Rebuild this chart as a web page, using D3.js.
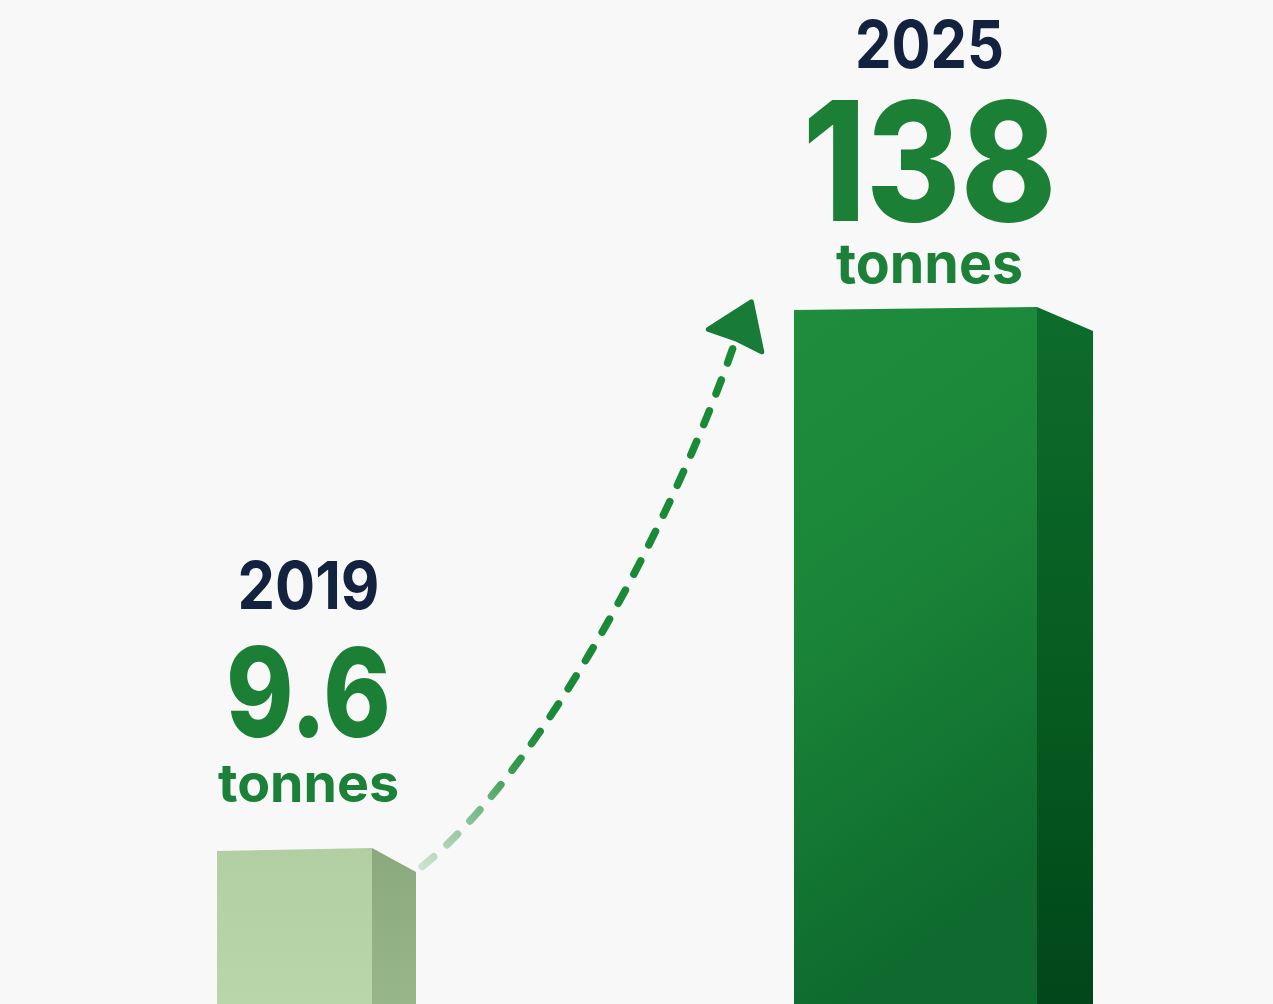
<!DOCTYPE html>
<html>
<head>
<meta charset="utf-8">
<script src="https://cdn.jsdelivr.net/npm/d3@7"></script>
<style>
  html, body { margin: 0; padding: 0; background: #f8f8f8; overflow: hidden; }
  svg { display: block; }
  text { font-family: Inter, "Noto Sans", sans-serif; }
</style>
</head>
<body>
<svg class="chart"></svg>
<script>
// data
var years = ['2019', '2025'];
var tonnes = [9.6, 138];
var valueLabels = ['9.6', '138'];
var unitLabel = 'tonnes';

var width = 1273, height = 1004;

var svg = d3.select('svg.chart')
  .attr('width', width)
  .attr('height', height);

// layout (perspective makes the far bar wider)
var baseY = 1004;
var x = d3.scaleOrdinal().domain(years).range([217, 794]);
var frontW = d3.scaleOrdinal().domain(years).range([155, 243]);
var depth = d3.scaleOrdinal().domain(years).range([44, 56]);
// bars are not linear in the source, a power scale gets close
var y = d3.scalePow().exponent(0.567).domain([0, 138]).range([baseY, 310]);

var defs = svg.append('defs');

var grad = function (id, x1, y1, x2, y2, stops) {
  var g = defs.append('linearGradient').attr('id', id)
    .attr('x1', x1).attr('y1', y1).attr('x2', x2).attr('y2', y2);
  stops.forEach(function (s) {
    g.append('stop').attr('offset', s[0]).attr('stop-color', s[1]);
  });
};

grad('front0', 0, 0, 0, 1, [[0, '#b2cfa3'], [1, '#b9d5aa']]);
grad('side0', 0, 0, 0, 1, [[0, '#8aa97d'], [1, '#97b68a']]);
grad('front1', 0, 0, 0.25, 1, [[0, '#1f8d3d'], [0.45, '#1a8538'], [1, '#0e6a2e']]);
grad('side1', 0, 0, 0, 1, [[0, '#0d6c2c'], [0.6, '#06591f'], [1, '#00461a']]);

var bars = svg.append('g').selectAll('g')
  .data(years)
  .join('g');

bars.append('path')
  .attr('d', function (d, i) {
    var x0 = x(d) + frontW(d), top = y(tonnes[i]), dp = depth(d);
    return 'M' + x0 + ',' + (top - 3) + 'L' + (x0 + dp) + ',' + (top + 21) +
      'L' + (x0 + dp) + ',' + baseY + 'L' + x0 + ',' + baseY + 'Z';
  })
  .attr('fill', function (d, i) { return 'url(#side' + i + ')'; });

bars.append('path')
  .attr('d', function (d, i) {
    var x0 = x(d), x1 = x0 + frontW(d), top = y(tonnes[i]);
    return 'M' + x0 + ',' + top + 'L' + x1 + ',' + (top - 3) +
      'L' + x1 + ',' + baseY + 'L' + x0 + ',' + baseY + 'Z';
  })
  .attr('fill', function (d, i) { return 'url(#front' + i + ')'; });

// dashed growth arrow from small bar to big bar
var p0 = [x(years[0]) + frontW(years[0]) + depth(years[0]) + 3, y(tonnes[0]) + 18];
var p3 = [737, 336];
var c1 = [540, 775], c2 = [677, 515];

var curve = d3.path();
curve.moveTo(p0[0], p0[1]);
curve.bezierCurveTo(c1[0], c1[1], c2[0], c2[1], p3[0], p3[1]);

defs.append('linearGradient').attr('id', 'dashFade')
  .attr('gradientUnits', 'userSpaceOnUse')
  .attr('x1', p0[0]).attr('y1', p0[1]).attr('x2', 545).attr('y2', 730)
  .selectAll('stop')
  .data([[0, '#cfe5d3'], [0.35, '#8cc49a'], [0.7, '#3d9c55'], [1, '#1a8a37']])
  .join('stop')
  .attr('offset', function (s) { return s[0]; })
  .attr('stop-color', function (s) { return s[1]; });

svg.append('path')
  .attr('d', curve.toString())
  .attr('fill', 'none')
  .attr('stroke', 'url(#dashFade)')
  .attr('stroke-width', 7.5)
  .attr('stroke-linecap', 'round')
  .attr('stroke-dasharray', '15 18')
  .attr('stroke-dashoffset', -4);

// arrow head, a bit to the right of the curve end tangent
var ux = 0.388, uy = -0.921;
var nx = -uy, ny = ux;
var headLen = 40, headHalf = 29;
var base = [p3[0] - ux * 3, p3[1] - uy * 3];
var tip = [base[0] + ux * headLen, base[1] + uy * headLen];
var left = [base[0] - nx * headHalf - ux * 2, base[1] - ny * headHalf - uy * 2];
var right = [base[0] + nx * headHalf - ux * 2, base[1] + ny * headHalf - uy * 2];

svg.append('path')
  .attr('d', 'M' + tip + 'L' + right + 'L' + base + 'L' + left + 'Z')
  .attr('fill', '#187b37')
  .attr('stroke', '#187b37')
  .attr('stroke-width', 5)
  .attr('stroke-linejoin', 'round');

// labels above each bar
var labelCx = function (d) { return x(d) + frontW(d) / 2 + 14; };

// size a text so it spans the width seen in the reference
var fitWidth = function (sel, target) {
  sel.each(function () {
    var fs = parseFloat(this.getAttribute('font-size'));
    var w = this.getComputedTextLength();
    if (w > 0) this.setAttribute('font-size', (fs * target / w).toFixed(1));
  });
};

var labels = svg.append('g').selectAll('g')
  .data(years)
  .join('g');

var yearGap = [242, 242], valueGap = [114, 89], unitGap = [49, 27];
var yearW = [142, 149], valueW = [165, 254], unitW = [181, 187];
var valueSize = [124, 166];

labels.append('text')
  .attr('x', labelCx)
  .attr('y', function (d, i) { return y(tonnes[i]) - yearGap[i]; })
  .attr('text-anchor', 'middle')
  .attr('font-size', 66)
  .attr('font-weight', 700)
  .attr('textLength', function (d, i) { return yearW[i]; })
  .attr('lengthAdjust', 'spacingAndGlyphs')
  .attr('fill', '#13223f')
  .text(function (d) { return d; });

labels.append('text')
  .attr('x', labelCx)
  .attr('y', function (d, i) { return y(tonnes[i]) - valueGap[i]; })
  .attr('text-anchor', 'middle')
  .attr('font-size', function (d, i) { return valueSize[i]; })
  .attr('font-weight', 800)
  .attr('textLength', function (d, i) { return valueW[i]; })
  .attr('lengthAdjust', 'spacingAndGlyphs')
  .attr('fill', '#1b7f36')
  .text(function (d, i) { return valueLabels[i]; });

labels.append('text')
  .attr('x', labelCx)
  .attr('y', function (d, i) { return y(tonnes[i]) - unitGap[i]; })
  .attr('text-anchor', 'middle')
  .attr('font-size', 56)
  .attr('font-weight', 700)
  .attr('fill', '#1b8038')
  .text(unitLabel)
  .each(function (d, i) { fitWidth(d3.select(this), unitW[i]); });
</script>
</body>
</html>
